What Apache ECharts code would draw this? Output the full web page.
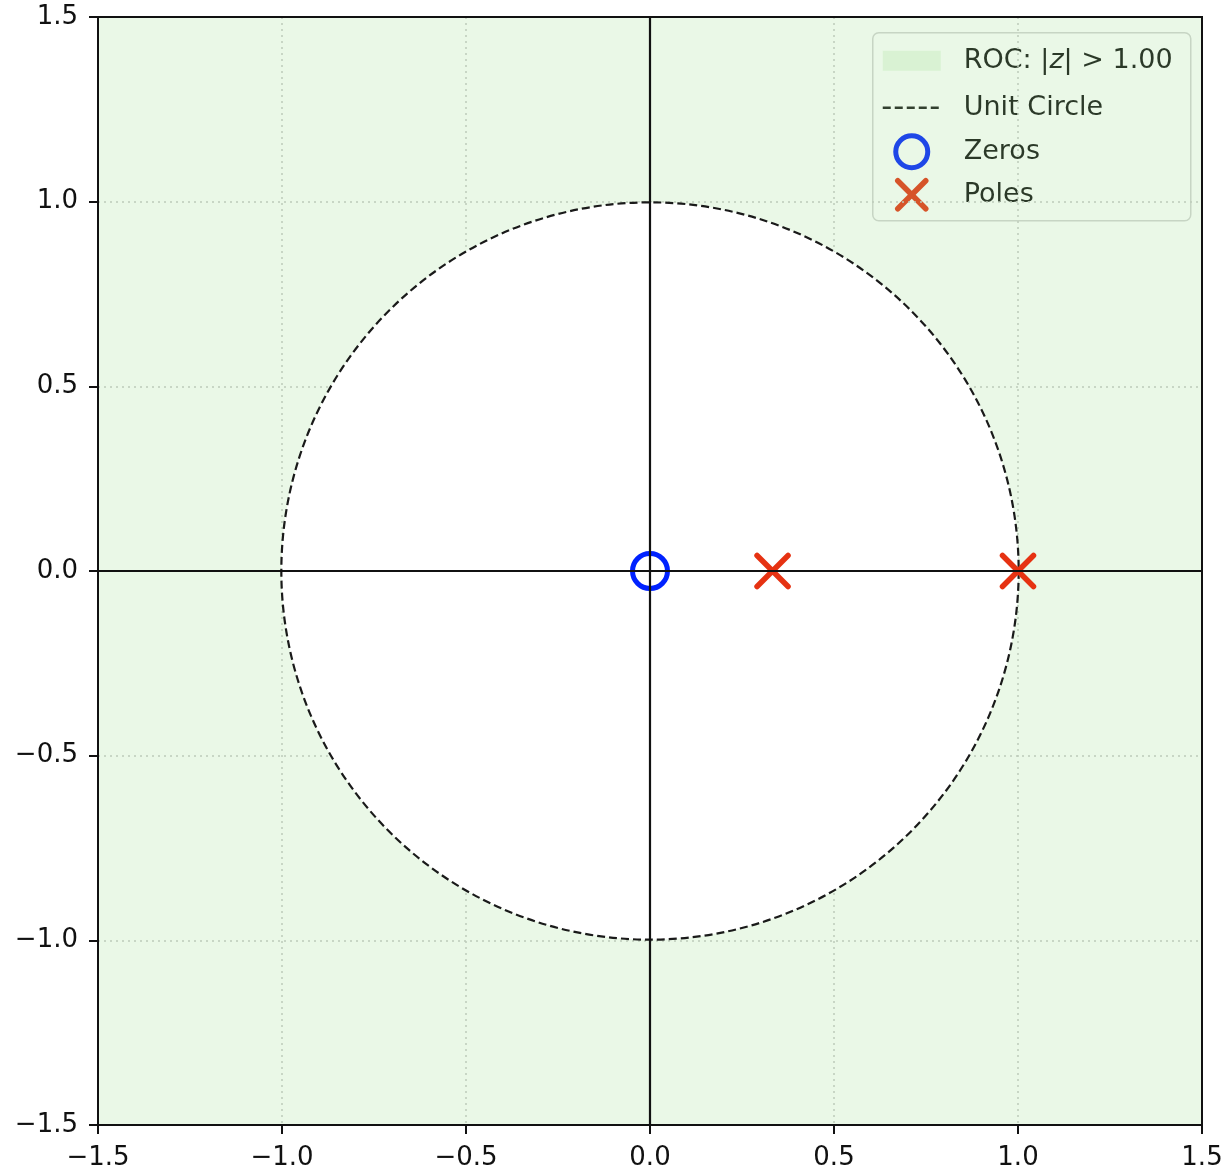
<!DOCTYPE html>
<html>
<head>
<meta charset="utf-8">
<script src="https://cdn.jsdelivr.net/npm/echarts@6/dist/echarts.min.js"></script>
<style>
  html, body { margin: 0; padding: 0; background: #fff; }
  #chart { width: 1229px; height: 1173px; }
</style>
</head>
<body>
<div id="chart"></div>
<script>
// axis range and ticks
const axisMin = -1.5;
const axisMax = 1.5;
const tickStep = 0.5;

// pole-zero data (real, imag)
const zeros = [[0, 0]];
const poles = [[0.333, 0], [1.0, 0]];

// unit circle: centre x, centre y, radius
const unitCircle = [[0, 0, 1.0]];
const rocRadius = 1.00;

const legendNames = ["ROC: |z| > 1.00", "Unit Circle", "Zeros", "Poles"];

const FONT = "DejaVu Sans";
const rocFill = "rgba(150, 222, 135, 0.2)";
const zeroColor = "#0022ff";
const poleColor = "#e63212";
const textColor = "#111";

const chart = echarts.init(document.getElementById("chart"));

const fmt = v => {
  const s = v.toFixed(1);
  return s.replace("-", "\u2212");
};

const axisCommon = {
  type: "value",
  min: axisMin,
  max: axisMax,
  interval: tickStep,
  axisLine: { show: false, onZero: false },
  axisTick: { show: true, length: 9, lineStyle: { color: "#111", width: 2 } },
  axisLabel: {
    formatter: fmt,
    color: textColor,
    fontFamily: FONT,
    fontSize: 26
  },
  splitLine: {
    show: true,
    lineStyle: { color: "#c8c8c8", width: 1.5, type: [2, 4] }
  }
};

const option = {
  animation: false,
  backgroundColor: "#fff",
  grid: {
    left: 98,
    right: 27,
    top: 17,
    bottom: 48,
    show: false,
    containLabel: false,
    outerBoundsMode: "none"
  },
  xAxis: Object.assign({}, axisCommon, {
    axisLabel: Object.assign({}, axisCommon.axisLabel, { margin: 20 })
  }),
  yAxis: Object.assign({}, axisCommon, {
    axisLabel: Object.assign({}, axisCommon.axisLabel, { margin: 20 })
  }),
  series: [
    {
      name: "ROC",
      type: "custom",
      coordinateSystem: "cartesian2d",
      z: 2,
      silent: true,
      clip: false,
      data: unitCircle,
      encode: { x: 0, y: 1 },
      renderItem: (params, api) => {
        const c = api.coord([api.value(0), api.value(1)]);
        const s = api.size([api.value(2), api.value(2)]);
        const r = (s[0] + s[1]) / 2;
        const tl = api.coord([axisMin, axisMax]);
        const br = api.coord([axisMax, axisMin]);
        const box = { x: tl[0], y: tl[1], width: br[0] - tl[0], height: br[1] - tl[1] };
        return {
          type: "group",
          children: [
            { type: "rect", shape: box, style: { fill: rocFill } },
            {
              type: "circle",
              shape: { cx: c[0], cy: c[1], r: r },
              style: { fill: "#fff", stroke: "#1a1a1a", lineWidth: 2.2, lineDash: [8, 4] }
            },
            { type: "rect", z2: 50, shape: box, style: { fill: "none", stroke: "#111", lineWidth: 2 } }
          ]
        };
      },
      markLine: {
        silent: true,
        symbol: "none",
        label: { show: false },
        lineStyle: { color: "#111", width: 2.2, type: "solid" },
        data: [{ xAxis: 0 }, { yAxis: 0 }]
      }
    },
    {
      name: "Zeros",
      type: "scatter",
      z: 4,
      data: zeros,
      symbol: "circle",
      symbolSize: 35,
      itemStyle: { color: "none", borderColor: zeroColor, borderWidth: 5, opacity: 1 }
    },
    {
      name: "Poles",
      type: "scatter",
      z: 4,
      data: poles,
      symbol: "path://M0,0L10,10M10,0L0,10",
      symbolSize: 31,
      itemStyle: { color: "none", borderColor: poleColor, borderWidth: 5.5, borderCap: "round", opacity: 1 }
    }
  ],
  graphic: [
    {
      type: "group",
      left: 872,
      top: 32,
      z: 100,
      children: [
        {
          type: "rect",
          shape: { x: 0, y: 0, width: 318, height: 188, r: 6 },
          style: { fill: "rgba(255,255,255,0.85)", stroke: "#d4d4d4", lineWidth: 1.5 }
        },
        {
          type: "rect",
          shape: { x: 10, y: 18, width: 58, height: 20 },
          style: { fill: rocFill }
        },
        {
          type: "text",
          x: 91,
          y: 28,
          style: {
            text: "ROC: |{i|z}| > " + rocRadius.toFixed(2),
            fontFamily: FONT,
            fontSize: 27,
            fill: textColor,
            verticalAlign: "middle",
            rich: {
              i: { fontStyle: "italic", fontFamily: FONT, fontSize: 27, fill: textColor }
            }
          }
        },
        {
          type: "line",
          shape: { x1: 10, y1: 75, x2: 68, y2: 75 },
          style: { stroke: "#1a1a1a", lineWidth: 2.4, lineDash: [8, 4] }
        },
        {
          type: "text",
          x: 91,
          y: 75,
          style: { text: legendNames[1], fontFamily: FONT, fontSize: 27, fill: textColor, verticalAlign: "middle" }
        },
        {
          type: "circle",
          shape: { cx: 39, cy: 119, r: 16 },
          style: { fill: "none", stroke: zeroColor, lineWidth: 5 }
        },
        {
          type: "text",
          x: 91,
          y: 119,
          style: { text: legendNames[2], fontFamily: FONT, fontSize: 27, fill: textColor, verticalAlign: "middle" }
        },
        {
          type: "polyline",
          shape: { points: [[25, 148], [53, 176]] },
          style: { stroke: poleColor, lineWidth: 5.5, lineCap: "round" }
        },
        {
          type: "polyline",
          shape: { points: [[53, 148], [25, 176]] },
          style: { stroke: poleColor, lineWidth: 5.5, lineCap: "round" }
        },
        {
          type: "text",
          x: 91,
          y: 162,
          style: { text: legendNames[3], fontFamily: FONT, fontSize: 27, fill: textColor, verticalAlign: "middle" }
        }
      ]
    }
  ]
};

chart.setOption(option);
</script>
</body>
</html>
